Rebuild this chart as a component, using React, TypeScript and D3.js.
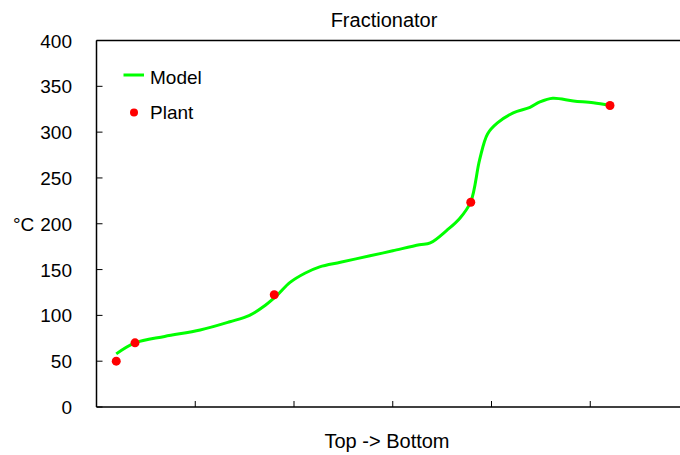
import React from "react";
import * as d3 from "d3";

const yTicks = [0, 50, 100, 150, 200, 250, 300, 350, 400];
const xTicks = [0, 1, 2, 3, 4, 5, 6];

const modelX = [0.2, 0.39, 0.69, 1.05, 1.35, 1.55, 1.71, 1.83, 1.96, 2.11, 2.26, 2.47, 2.77, 3.0, 3.27, 3.38, 3.55, 3.68, 3.79, 3.88, 3.96, 4.06, 4.22, 4.39, 4.49, 4.62, 4.83, 5.03, 5.2];
const modelY = [58, 70, 77, 84, 93, 100, 111, 122, 136, 146, 153, 158, 165, 170.5, 177, 179, 193, 206, 224, 270, 298, 310, 321, 327, 333, 337, 334, 332, 329];

const plantX = [0.2, 0.39, 1.8, 3.79, 5.2];
const plantY = [50, 70, 122.5, 223.5, 329];

const W = 680, H = 455;
const left = 96.5, top = 40.5, bottom = 407;
const font = "Liberation Sans, Arial, sans-serif";

export default function App() {
  const x = d3.scaleLinear().domain([0, 6]).range([left, left + 6 * 98.75]);
  const y = d3.scaleLinear().domain([0, 400]).range([bottom, top]);
  const line = d3
    .line<number>()
    .x((_, i) => x(modelX[i]))
    .y((d) => y(d))
    .curve(d3.curveCatmullRom.alpha(0.5));

  return (
    <svg width={W} height={H} style={{ position: "absolute", left: 0, top: 0 }} fontFamily={font}>
      <rect width={W} height={H} fill="#fff" />
      <text x={384} y={27} textAnchor="middle" fontSize={20}>Fractionator</text>
      {/* frame */}
      <line x1={left} y1={top} x2={W} y2={top} stroke="#000" strokeWidth={1.5} />
      <line x1={left} y1={top} x2={left} y2={bottom} stroke="#000" strokeWidth={1.5} />
      <line x1={left} y1={bottom} x2={W} y2={bottom} stroke="#000" strokeWidth={1.5} />
      {yTicks.map((t) => (
        <g key={t}>
          <line x1={left} x2={left + 6} y1={y(t)} y2={y(t)} stroke="#000" />
          <text x={72} y={y(t) + 7} textAnchor="end" fontSize={19}>{t}</text>
        </g>
      ))}
      {xTicks.map((t) => (
        <line key={t} x1={x(t)} x2={x(t)} y1={bottom} y2={bottom - 6} stroke="#000" />
      ))}
      <text x={13} y={231} fontSize={19}>°C</text>
      <text x={387} y={448} textAnchor="middle" fontSize={20}>Top -&gt; Bottom</text>
      <path d={line(modelY) || ""} fill="none" stroke="#00ff00" strokeWidth={3} />
      {plantY.map((v, i) => (
        <circle key={i} cx={x(plantX[i])} cy={y(v)} r={4.5} fill="#ff0000" />
      ))}
      {/* legend */}
      <line x1={123.5} x2={144} y1={75} y2={75} stroke="#00ff00" strokeWidth={3} />
      <text x={150} y={84} fontSize={19}>Model</text>
      <circle cx={134} cy={112.5} r={4} fill="#ff0000" />
      <text x={150} y={119} fontSize={19}>Plant</text>
    </svg>
  );
}
